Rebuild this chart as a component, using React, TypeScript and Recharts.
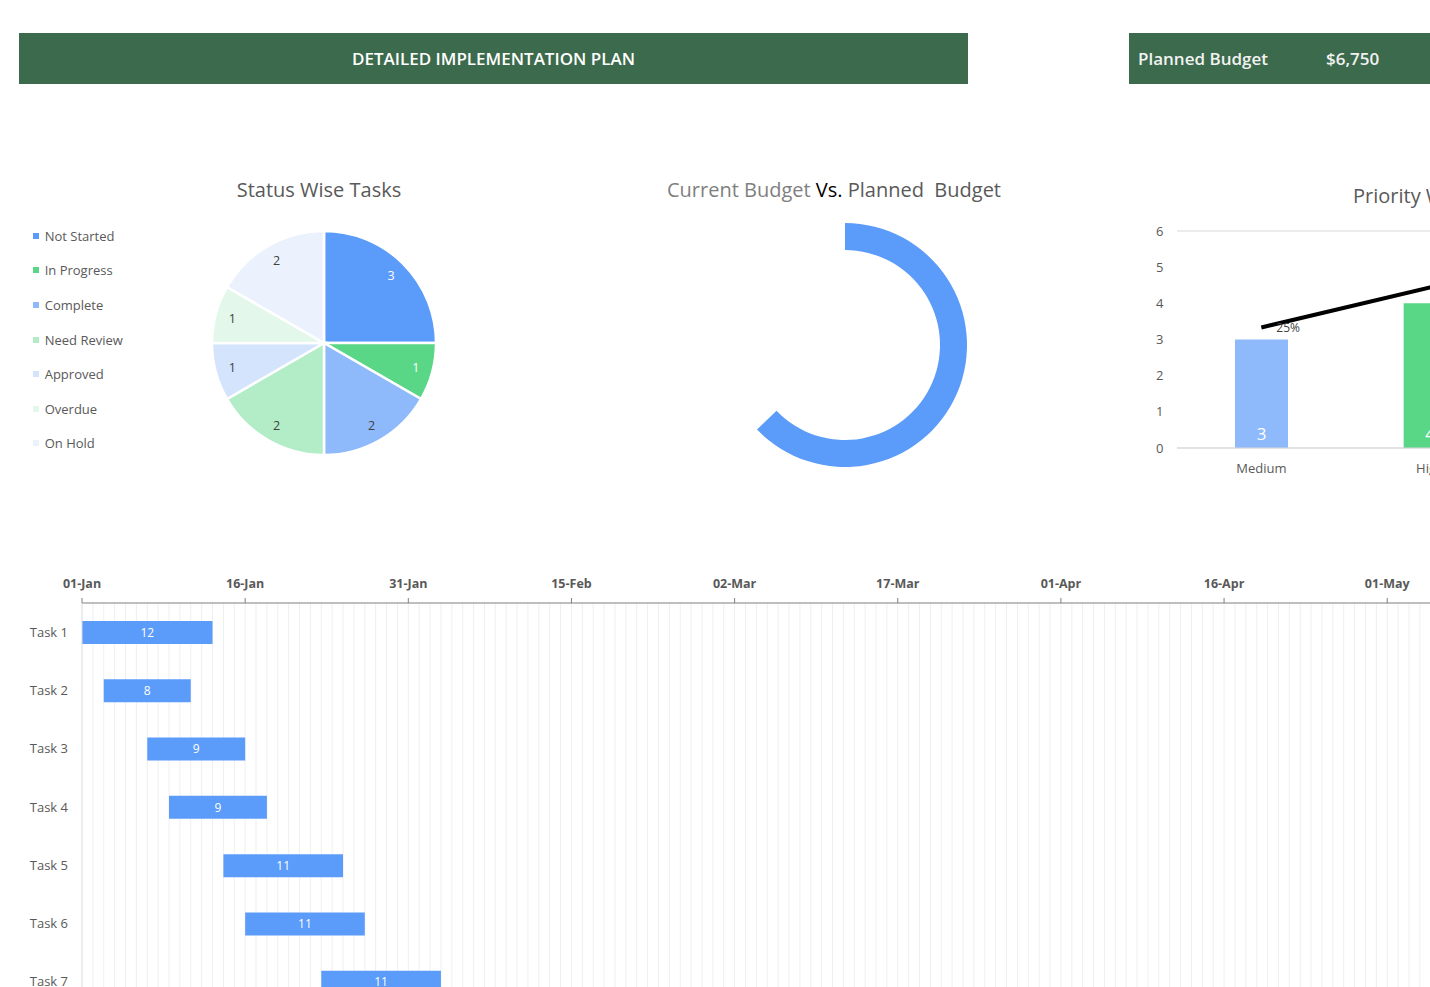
import React from "react";
import {
  PieChart,
  Pie,
  Cell,
  Legend,
  BarChart,
  ComposedChart,
  Bar,
  Line,
  LabelList,
  XAxis,
  YAxis,
  CartesianGrid,
} from "recharts";

const FONT = "'Open Sans', 'Noto Sans', sans-serif";
const HEADER_GREEN = "#3B6A4C";
const BLUE = "#5B9BF9";
const TEXT = "#595959";

// status breakdown
const statusNames = ["Not Started", "In Progress", "Complete", "Need Review", "Approved", "Overdue", "On Hold"];
const statusCounts = [3, 1, 2, 2, 1, 1, 2];
const statusColors = ["#5B9BF9", "#5AD687", "#8EB9FB", "#B3EDC7", "#D5E4FD", "#E3F7EA", "#EBF2FE"];
const statusLabelColors = ["#fff", "#fff", "#404040", "#404040", "#404040", "#404040", "#404040"];

// budget
const plannedBudget = 6750;
const currentBudget = 4240;

// priority
const priorityNames = ["Medium", "High", "Low"];
const priorityCounts = [3, 4, 5];
const prioritySharePct = [25, 33.3, 41.7];
const priorityColors = ["#8EB9FB", "#5AD687", "#B3EDC7"];

// timeline
const taskNames = ["Task 1", "Task 2", "Task 3", "Task 4", "Task 5", "Task 6", "Task 7"];
const taskStarts = ["2023-01-01", "2023-01-03", "2023-01-07", "2023-01-09", "2023-01-14", "2023-01-16", "2023-01-23"];
const taskDays = [12, 8, 9, 9, 11, 11, 11];
const timelineStart = "2023-01-01";
const timelineTicks = ["2023-01-01", "2023-01-16", "2023-01-31", "2023-02-15", "2023-03-02", "2023-03-17", "2023-04-01", "2023-04-16", "2023-05-01"];
const timelineLength = 130;

const MONTHS = ["Jan", "Feb", "Mar", "Apr", "May", "Jun", "Jul", "Aug", "Sep", "Oct", "Nov", "Dec"];
const DAY = 86400000;
const dayOffset = (d: string) => Math.round((Date.parse(d) - Date.parse(timelineStart)) / DAY);
const fmtDay = (n: number) => {
  const d = new Date(Date.parse(timelineStart) + n * DAY);
  return `${String(d.getUTCDate()).padStart(2, "0")}-${MONTHS[d.getUTCMonth()]}`;
};

const statusData = statusNames.map((name, i) => ({ name, value: statusCounts[i] }));
const budgetData = [
  { name: "Current", value: currentBudget },
  { name: "Remaining", value: plannedBudget - currentBudget },
];
const priorityData = priorityNames.map((name, i) => ({
  name,
  count: priorityCounts[i],
  share: prioritySharePct[i],
}));
const ganttData = taskNames.map((task, i) => ({
  task,
  offset: dayOffset(taskStarts[i]),
  days: taskDays[i],
}));
const tickDays = timelineTicks.map(dayOffset);
const dayLines = Array.from({ length: timelineLength }, (_, i) => i + 1);

const RAD = Math.PI / 180;

function StatusLabel(props: any) {
  const { cx, cy, midAngle, index, value } = props;
  const r = 95;
  const x = cx + r * Math.cos(-midAngle * RAD);
  const y = cy + r * Math.sin(-midAngle * RAD);
  return (
    <text x={x} y={y} fill={statusLabelColors[index]} fontSize={12.5} fontFamily={FONT} textAnchor="middle" dominantBaseline="central">
      {value}
    </text>
  );
}

function StatusLegend() {
  return (
    <div style={{ fontFamily: FONT, fontSize: 13, color: TEXT }}>
      {statusNames.map((name, i) => (
        <div key={name} style={{ height: 34.6, display: "flex", alignItems: "center" }}>
          <span style={{ width: 6, height: 6, background: statusColors[i], display: "inline-block", marginRight: 6 }} />
          <span>{name}</span>
        </div>
      ))}
    </div>
  );
}

const titleStyle: React.CSSProperties = {
  position: "absolute",
  fontFamily: FONT,
  fontSize: 20,
  lineHeight: "20px",
  color: TEXT,
  whiteSpace: "pre",
};

export default function App() {
  return (
    <div style={{ position: "fixed", left: 0, top: 0, width: 1430, height: 987, overflow: "hidden", background: "#fff" }}>
      {/* header bars */}
      <div
        style={{
          position: "absolute", left: 19, top: 33, width: 949, height: 51, background: HEADER_GREEN,
          display: "flex", alignItems: "center", justifyContent: "center",
          color: "#fff", fontFamily: FONT, fontSize: 17, fontWeight: 600,
        }}
      >
        DETAILED IMPLEMENTATION PLAN
      </div>
      <div
        style={{
          position: "absolute", left: 1129, top: 33, width: 400, height: 51, background: HEADER_GREEN,
          display: "flex", alignItems: "center", color: "#F2F2F2", fontFamily: FONT, fontSize: 17, fontWeight: 600,
        }}
      >
        <span style={{ marginLeft: 9, width: 188 }}>Planned Budget</span>
        <span>${plannedBudget.toLocaleString("en-US")}</span>
      </div>

      {/* status pie */}
      <div style={{ ...titleStyle, left: 219, top: 180, width: 200, textAlign: "center" }}>Status Wise Tasks</div>
      <div style={{ position: "absolute", left: 20, top: 170 }}>
        <PieChart width={440} height={300} margin={{ top: 0, right: 0, bottom: 0, left: 0 }}>
          <Pie
            data={statusData}
            dataKey="value"
            nameKey="name"
            cx={304}
            cy={173}
            outerRadius={112}
            startAngle={90}
            endAngle={-270}
            stroke="#fff"
            strokeWidth={2.5}
            label={StatusLabel}
            labelLine={false}
            isAnimationActive={false}
          >
            {statusData.map((d, i) => (
              <Cell key={d.name} fill={statusColors[i]} />
            ))}
          </Pie>
          <Legend
            layout="vertical"
            align="center"
            verticalAlign="middle"
            content={StatusLegend}
            wrapperStyle={{ left: 12.7, top: 48.6, width: 150 }}
          />
        </PieChart>
      </div>

      {/* budget ring */}
      <div style={{ ...titleStyle, left: 634, top: 180, width: 400, textAlign: "center" }}>
        <span style={{ color: "#7F7F7F" }}>Current Budget </span>
        <span style={{ color: "#000" }}>Vs.</span>
        <span> Planned  Budget</span>
      </div>
      <div style={{ position: "absolute", left: 695, top: 195 }}>
        <PieChart width={300} height={300} margin={{ top: 0, right: 0, bottom: 0, left: 0 }}>
          <Pie
            data={budgetData}
            dataKey="value"
            cx={150}
            cy={150}
            innerRadius={95}
            outerRadius={122}
            startAngle={90}
            endAngle={-270}
            stroke="none"
            isAnimationActive={false}
          >
            <Cell fill={BLUE} />
            <Cell fill="none" />
          </Pie>
        </PieChart>
      </div>

      {/* priority bars */}
      <div style={{ ...titleStyle, left: 1353, top: 186 }}>Priority Wise Tasks</div>
      <div style={{ position: "absolute", left: 1130, top: 200 }}>
        <ComposedChart width={553} height={300} data={priorityData} margin={{ top: 31, right: 0, bottom: 22, left: 0 }}>
          <CartesianGrid vertical={false} stroke="#D9D9D9" />
          <XAxis
            dataKey="name"
            height={30}
            axisLine={{ stroke: "#D9D9D9" }}
            tickLine={false}
            tickMargin={10}
            tick={{ fill: TEXT, fontSize: 13, fontFamily: FONT }}
          />
          <YAxis
            yAxisId="n"
            domain={[0, 6]}
            ticks={[0, 1, 2, 3, 4, 5, 6]}
            width={47}
            axisLine={false}
            tickLine={false}
            tickMargin={7.5}
            tick={{ fill: TEXT, fontSize: 13, fontFamily: FONT }}
          />
          <YAxis yAxisId="pct" orientation="right" domain={[0, 45]} hide />
          <Bar yAxisId="n" dataKey="count" barSize={53} isAnimationActive={false}>
            {priorityData.map((d, i) => (
              <Cell key={d.name} fill={priorityColors[i]} />
            ))}
            <LabelList dataKey="count" position="insideBottom" offset={8} fill="#fff" fontSize={17} fontFamily={FONT} />
          </Bar>
          <Line yAxisId="pct" dataKey="share" stroke="#000" strokeWidth={4} dot={false} isAnimationActive={false}>
            <LabelList
              dataKey="share"
              position="right"
              offset={15}
              formatter={(v: any) => `${Math.round(Number(v))}%`}
              fill="#404040"
              fontSize={12}
              fontFamily={FONT}
            />
          </Line>
        </ComposedChart>
      </div>

      {/* timeline */}
      <div style={{ position: "absolute", left: 20, top: 560 }}>
        <BarChart
          layout="vertical"
          width={1476}
          height={451}
          data={ganttData}
          barSize={23}
          margin={{ top: 0, right: 0, bottom: 0, left: 0 }}
        >
          <CartesianGrid horizontal={false} verticalValues={dayLines} stroke="#EFEFEF" />
          <XAxis
            type="number"
            orientation="top"
            domain={[0, timelineLength]}
            ticks={tickDays}
            tickFormatter={fmtDay}
            interval={0}
            height={43}
            axisLine={{ stroke: "#7F7F7F" }}
            tickLine={{ stroke: "#7F7F7F" }}
            tickSize={5}
            tickMargin={10}
            tick={{ fill: TEXT, fontSize: 12.5, fontWeight: 700, fontFamily: FONT }}
          />
          <YAxis
            type="category"
            dataKey="task"
            width={62}
            interval={0}
            axisLine={{ stroke: "#D9D9D9" }}
            tickLine={false}
            tickMargin={8}
            tick={{ fill: TEXT, fontSize: 13, fontFamily: FONT }}
          />
          <Bar dataKey="offset" stackId="t" fill="transparent" isAnimationActive={false} />
          <Bar dataKey="days" stackId="t" fill={BLUE} isAnimationActive={false}>
            <LabelList dataKey="days" position="center" fill="#fff" fontSize={12} fontFamily={FONT} />
          </Bar>
        </BarChart>
      </div>
    </div>
  );
}
